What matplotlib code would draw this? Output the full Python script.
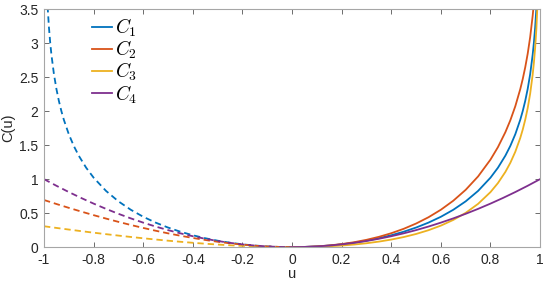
import matplotlib
matplotlib.use("Agg")
import matplotlib.pyplot as plt
import numpy as np

plt.rcParams['font.family'] = ['Liberation Sans', 'DejaVu Sans']
plt.rcParams['mathtext.fontset'] = 'cm'

# values
u_pos = [0, 0.05, 0.1, 0.15, 0.2, 0.25, 0.3, 0.35, 0.4, 0.45, 0.5, 0.55, 0.6, 0.65,
         0.7, 0.75, 0.8, 0.83, 0.86, 0.88, 0.9, 0.92, 0.93, 0.94, 0.95, 0.96, 0.97,
         0.975, 0.98, 0.985, 0.99, 0.995]
c1_pos = [0, 0.0025, 0.0101, 0.0228, 0.0408, 0.0645, 0.0943, 0.1307, 0.1744, 0.2263,
          0.2877, 0.3603, 0.4463, 0.5491, 0.6733, 0.8267, 1.0217, 1.1677, 1.3455, 1.489,
          1.6607, 1.8734, 2.0017, 2.1507, 2.3279, 2.5459, 2.8285, 3.0083, 3.2289, 3.5141,
          3.917, 4.6077]
c2_pos = [0, 0.0026, 0.0105, 0.0244, 0.0446, 0.0719, 0.107, 0.1508, 0.2043, 0.269,
          0.3466, 0.4392, 0.5498, 0.6824, 0.8428, 1.0397, 1.2876, 1.4707, 1.6909, 1.8658,
          2.0723, 2.3237, 2.4731, 2.6446, 2.846, 3.0901, 3.4014, 3.5967, 3.8338, 4.1367,
          4.5591, 5.2718]
c3_pos = [0, 0.0013, 0.0054, 0.0125, 0.0231, 0.0377, 0.0567, 0.0808, 0.1108, 0.1478,
          0.1932, 0.2485, 0.3163, 0.3998, 0.504, 0.6363, 0.8094, 0.942, 1.1061, 1.2403,
          1.4026, 1.6057, 1.7293, 1.8734, 2.0457, 2.2589, 2.5366, 2.7139, 2.932, 3.2147,
          3.6152, 4.3033]

# C1 left branch (mirror of the right one in the picture)
u_c1_neg = [-u for u in u_pos]
c1_neg = c1_pos

u_neg = [-1, -0.95, -0.9, -0.85, -0.8, -0.75, -0.7, -0.65, -0.6, -0.55, -0.5, -0.45,
         -0.4, -0.35, -0.3, -0.25, -0.2, -0.15, -0.1, -0.05, 0]
c2_neg = [0.6931, 0.6344, 0.5777, 0.5229, 0.4702, 0.4197, 0.3714, 0.3255, 0.282, 0.241,
          0.2027, 0.1672, 0.1346, 0.105, 0.0787, 0.0558, 0.0365, 0.021, 0.0095, 0.0024, 0]
c3_neg = [0.3069, 0.2822, 0.2582, 0.2348, 0.2122, 0.1904, 0.1694, 0.1492, 0.13, 0.1118,
          0.0945, 0.0784, 0.0635, 0.0499, 0.0376, 0.0269, 0.0177, 0.0102, 0.0047, 0.0012, 0]
c4_neg = [1.0, 0.9025, 0.81, 0.7225, 0.64, 0.5625, 0.49, 0.4225, 0.36, 0.3025, 0.25,
          0.2025, 0.16, 0.1225, 0.09, 0.0625, 0.04, 0.0225, 0.01, 0.0025, 0]

u_c4 = [0, 0.05, 0.1, 0.15, 0.2, 0.25, 0.3, 0.35, 0.4, 0.45, 0.5, 0.55, 0.6, 0.65, 0.7,
        0.75, 0.8, 0.85, 0.9, 0.95, 1.0]
c4_pos = [0, 0.0025, 0.01, 0.0225, 0.04, 0.0625, 0.09, 0.1225, 0.16, 0.2025, 0.25, 0.3025,
          0.36, 0.4225, 0.49, 0.5625, 0.64, 0.7225, 0.81, 0.9025, 1.0]

colors = ['#0072BD', '#D95319', '#EDB120', '#7E2F8E']
labels = ['$C_1$', '$C_2$', '$C_3$', '$C_4$']

fig = plt.figure(figsize=(5.5, 2.88), dpi=100)
ax = fig.add_axes([0.08, 0.142, 0.902, 0.826])

lw = 1.3
dash = (3.5, 2.2)
ax.plot(u_pos, c1_pos, color=colors[0], lw=lw, label=labels[0])
ax.plot(u_pos, c2_pos, color=colors[1], lw=lw, label=labels[1])
ax.plot(u_pos, c3_pos, color=colors[2], lw=lw, label=labels[2])
ax.plot(u_c4, c4_pos, color=colors[3], lw=lw, label=labels[3])
ax.plot(u_c1_neg, c1_neg, color=colors[0], lw=lw, dashes=dash)
ax.plot(u_neg, c2_neg, color=colors[1], lw=lw, dashes=dash)
ax.plot(u_neg, c3_neg, color=colors[2], lw=lw, dashes=dash)
ax.plot(u_neg, c4_neg, color=colors[3], lw=lw, dashes=dash)

ax.set_xlim(-1, 1)
ax.set_ylim(0, 3.5)
ax.set_xticks(np.arange(-1, 1.01, 0.2))
ax.set_xticklabels(['-1', '-0.8', '-0.6', '-0.4', '-0.2', '0', '0.2', '0.4', '0.6', '0.8', '1'])
ax.set_yticks(np.arange(0, 3.51, 0.5))
ax.set_yticklabels(['0', '0.5', '1', '1.5', '2', '2.5', '3', '3.5'])
ax.tick_params(direction='in', top=True, right=True, length=3.5, width=0.6,
               color='#555555', labelsize=10, labelcolor='#262626', pad=4)
for s in ax.spines.values():
    s.set_color('#a6a6a6')
    s.set_linewidth(0.8)

ax.set_xlabel('u', fontsize=10.5, color='#262626', labelpad=0)
ax.set_ylabel('C(u)', fontsize=10.5, color='#262626', labelpad=3)

leg = ax.legend(loc='upper left', bbox_to_anchor=(0.075, 1.015), frameon=False,
                fontsize=14, handlelength=1.05, handletextpad=0.15, labelspacing=0.0,
                borderaxespad=0.15)

fig.savefig('out.png', dpi=100)
